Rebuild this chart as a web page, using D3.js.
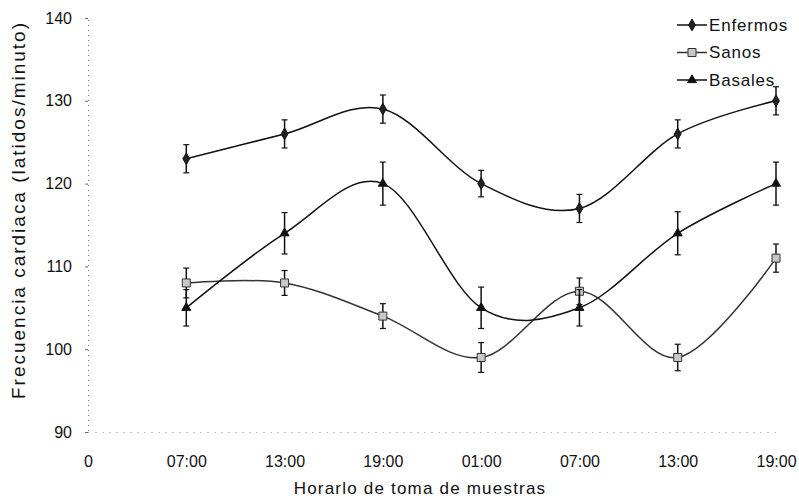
<!DOCTYPE html>
<html>
<head>
<meta charset="utf-8">
<script src="https://cdn.jsdelivr.net/npm/d3@7"></script>
<style>
  body { margin: 0; background: #fff; }
  text { font-family: "Liberation Sans", Arial, sans-serif; fill: #111; }
</style>
</head>
<body>
<div id="chart"></div>
<script>
// x categories (index 0 is the origin "0")
const labels = ["0", "07:00", "13:00", "19:00", "01:00", "07:00", "13:00", "19:00"];
const yTicks = [90, 100, 110, 120, 130, 140];

// heart rate per sample time (index 1..7)
const enfermos = [123, 126, 129, 120, 117, 126, 130];
const sanos    = [108, 108, 104, 99, 107, 99, 111];
const basales  = [105, 114, 120, 105, 105, 114, 120];

const errEnfermos = [1.7, 1.7, 1.7, 1.6, 1.7, 1.7, 1.7];
const errSanos    = [1.8, 1.5, 1.5, 1.8, 1.6, 1.6, 1.7];
const errBasales  = [2.2, 2.5, 2.6, 2.5, 2.2, 2.6, 2.6];

const seriesNames = ["Enfermos", "Sanos", "Basales"];

function draw() {
  const width = 799, height = 504;

  const svg = d3.select("#chart").append("svg")
    .attr("width", width)
    .attr("height", height)
    .style("display", "block")
    .style("background", "#fff");

  const x = d3.scaleLinear().domain([0, 7]).range([88, 776]);
  const y = d3.scaleLinear().domain([90, 140]).range([432, 18]);

  // y axis
  const yAxis = svg.append("g")
    .attr("transform", "translate(88,0)")
    .call(d3.axisLeft(y).tickValues(yTicks).tickSize(3).tickPadding(13));
  yAxis.select(".domain").attr("stroke", "#777").attr("stroke-dasharray", "1,4");
  yAxis.selectAll(".tick line").attr("stroke", "#666");
  yAxis.selectAll("text").style("font-size", "16px").attr("fill", "#111");

  // x axis
  const xAxis = svg.append("g")
    .attr("transform", "translate(0,432)")
    .call(d3.axisBottom(x).tickValues(d3.range(labels.length))
      .tickFormat(i => labels[i]).tickSize(0).tickPadding(24));
  xAxis.select(".domain").attr("stroke", "#888").attr("stroke-dasharray", "1,6");
  xAxis.selectAll("text").style("font-size", "16px").attr("fill", "#111");

  // axis titles
  svg.append("text")
    .attr("transform", "translate(18,211) rotate(-90)")
    .attr("text-anchor", "middle")
    .attr("dy", "0.35em")
    .attr("textLength", 376)
    .attr("lengthAdjust", "spacing")
    .style("font-size", "19px")
    .text("Frecuencia cardiaca (latidos/minuto)");

  svg.append("text")
    .attr("x", 420)
    .attr("y", 494)
    .attr("text-anchor", "middle")
    .style("font-size", "17px")
    .style("letter-spacing", "1.2px")
    .text("Horarlo de toma de muestras");

  const series = [
    { name: seriesNames[0], values: enfermos, err: errEnfermos, shape: d3.symbolDiamond, fill: "#222", stroke: "#111", size: 40 },
    { name: seriesNames[1], values: sanos, err: errSanos, shape: d3.symbolSquare, fill: "#c8c8c8", stroke: "#333", size: 64 },
    { name: seriesNames[2], values: basales, err: errBasales, shape: d3.symbolTriangle, fill: "#111", stroke: "#111", size: 35 }
  ];

  const line = d3.line()
    .x((d, i) => x(i + 1))
    .y(d => y(d))
    .curve(d3.curveCardinal.tension(0));

  series.forEach(s => {
    const g = svg.append("g");
    g.append("path")
      .datum(s.values)
      .attr("fill", "none")
      .attr("stroke", s.name === "Sanos" ? "#333" : "#111")
      .attr("stroke-width", 1.5)
      .attr("d", line);

    const eb = g.selectAll(".eb").data(s.values).join("g");
    eb.append("line")
      .attr("x1", (d, i) => x(i + 1)).attr("x2", (d, i) => x(i + 1))
      .attr("y1", (d, i) => y(d + s.err[i])).attr("y2", (d, i) => y(d - s.err[i]))
      .attr("stroke", "#111").attr("stroke-width", 1.5);
    [1, -1].forEach(sg => {
      eb.append("line")
        .attr("x1", (d, i) => x(i + 1) - 3).attr("x2", (d, i) => x(i + 1) + 3)
        .attr("y1", (d, i) => y(d + sg * s.err[i])).attr("y2", (d, i) => y(d + sg * s.err[i]))
        .attr("stroke", "#111").attr("stroke-width", 1.2);
    });

    g.selectAll(".mk").data(s.values).join("path")
      .attr("transform", (d, i) => `translate(${x(i + 1)},${y(d)})`)
      .attr("d", d3.symbol().type(s.shape).size(s.size))
      .attr("fill", s.fill)
      .attr("stroke", s.stroke)
      .attr("stroke-width", 1);
  });

  // legend
  const legend = svg.append("g").attr("transform", "translate(677,0)");
  const rows = legend.selectAll("g").data(series).join("g")
    .attr("transform", (d, i) => `translate(0,${25 + i * 27.5})`);
  rows.append("line")
    .attr("x1", 0).attr("x2", 30)
    .attr("stroke", d => d.name === "Sanos" ? "#333" : "#111")
    .attr("stroke-width", 1.5);
  rows.append("path")
    .attr("transform", "translate(15,0)")
    .attr("d", d => d3.symbol().type(d.shape).size(d.size)())
    .attr("fill", d => d.fill)
    .attr("stroke", d => d.stroke);
  rows.append("text")
    .attr("x", 32)
    .attr("dy", "0.35em")
    .style("font-size", "17px")
    .style("letter-spacing", "0.8px")
    .text(d => d.name);
}
draw();
</script>
</body>
</html>
